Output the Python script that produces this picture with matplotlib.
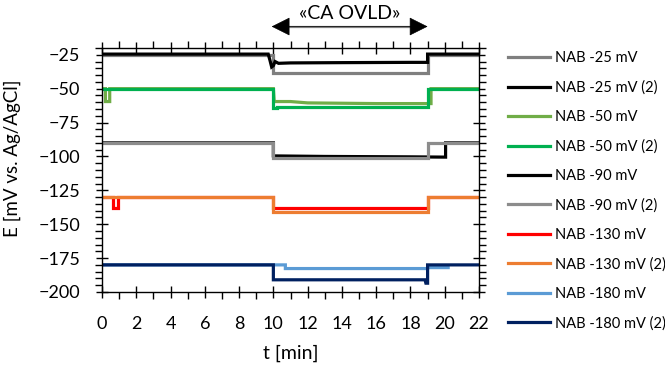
import matplotlib
matplotlib.use("Agg")
import matplotlib.pyplot as plt
from matplotlib.ticker import MultipleLocator

plt.rcParams['font.family'] = ['Lato', 'DejaVu Sans']

# series: time [min] and potential [mV vs. Ag/AgCl]
labels = ["NAB -25 mV", "NAB -25 mV (2)", "NAB -50 mV", "NAB -50 mV (2)",
          "NAB -90 mV", "NAB -90 mV (2)", "NAB -130 mV", "NAB -130 mV (2)",
          "NAB -180 mV", "NAB -180 mV (2)"]
colors = ["#7F7F7F", "#000000", "#70AD47", "#00B050", "#000000",
          "#8C8C8C", "#FF0000", "#ED7D31", "#5B9BD5", "#002060"]

t_25 = [0, 10, 10, 19, 19, 22]
e_25 = [-25, -25, -38.5, -38.5, -25, -25]
t_25b = [0, 9.7, 9.8, 9.9, 10.0, 10.1, 10.3, 11, 14, 18, 19, 19, 22]
e_25b = [-24.5, -24.5, -29, -34, -33, -30, -31.3, -31.0, -30.8, -30.6, -30.6, -24.5, -24.5]
t_50 = [0, 0.2, 0.2, 0.45, 0.45, 10, 10.05, 11, 12, 16, 19.2, 19.2, 22]
e_50 = [-50, -50, -59.5, -59.5, -50, -50, -59.5, -59.5, -60.5, -61, -61, -50, -50]
t_50b = [0, 10, 10, 10.2, 10.2, 19, 19, 22]
e_50b = [-50, -50, -64.5, -64.5, -63.5, -63.5, -50, -50]
t_90 = [0, 10, 10, 13, 18, 20.05, 20.05, 22]
e_90 = [-90, -90, -99.6, -100, -100.3, -100.5, -90, -90]
t_90b = [0, 10, 10, 19, 19, 22]
e_90b = [-90, -90, -101.3, -101.3, -90, -90]
t_130 = [0, 0.65, 0.65, 0.92, 0.92, 10, 10, 19, 19, 22]
e_130 = [-130, -130, -137.7, -137.7, -130, -130, -138.3, -138.3, -130, -130]
t_130b = [0, 10, 10, 19, 19, 22]
e_130b = [-130, -130, -141.2, -141.2, -130, -130]
t_180 = [0, 10.7, 10.7, 19, 19.05, 20.2]
e_180 = [-180, -180, -182.7, -182.7, -182, -182]
t_180b = [0, 10, 10, 18.85, 18.9, 19, 19, 22]
e_180b = [-180, -180, -191, -191, -193.5, -193.5, -180, -180]

times = [t_25, t_25b, t_50, t_50b, t_90, t_90b, t_130, t_130b, t_180, t_180b]
values = [e_25, e_25b, e_50, e_50b, e_90, e_90b, e_130, e_130b, e_180, e_180b]

fig = plt.figure(figsize=(6.65, 3.69), dpi=100)
ax = fig.add_axes([102/665, 1 - 292/369, 377/665, 244/369])

for t, e, lab, c in zip(times, values, labels, colors):
    ax.plot(t, e, color=c, lw=2.3, label=lab, solid_joinstyle="miter")

ax.set_xlim(0, 22)
ax.set_ylim(-200, -20)
ax.xaxis.set_major_locator(MultipleLocator(2))
ax.xaxis.set_minor_locator(MultipleLocator(1))
ax.yaxis.set_major_locator(MultipleLocator(25))
ax.yaxis.set_minor_locator(MultipleLocator(5))
ax.tick_params(which="major", direction="inout", length=9, width=1,
               top=True, right=True, labelsize=13)
ax.tick_params(axis="x", which="major", pad=13)
ax.tick_params(axis="y", which="major", pad=11)
ax.tick_params(which="minor", direction="out", length=5, width=1,
               top=True, right=True)
for s in ax.spines.values():
    s.set_linewidth(1)

ax.set_xlabel("t [min]", fontsize=14)
ax.set_ylabel("E [mV vs. Ag/AgCl]", fontsize=13.5)
ax.xaxis.set_label_coords(0.5, -0.215)
ax.yaxis.set_label_coords(-0.215, 0.55)

# CA OVLD window: black heads, gray shaft
xt = ax.get_xaxis_transform()
ax.annotate("", xy=(9.9, 1.088), xytext=(19.0, 1.088), xycoords=xt,
            arrowprops=dict(arrowstyle="<|-|>", color="black", lw=0.5,
                            mutation_scale=30, shrinkA=0, shrinkB=0))
ax.plot([10.5, 18.4], [1.088, 1.088], transform=xt, color="#808080",
        lw=1.6, clip_on=False)
ax.text(14.45, 1.14, "«CA OVLD»", transform=xt,
        ha="center", va="center", fontsize=14)

fig.legend(loc="upper left", bbox_to_anchor=(508/665, 1 - 51/369),
           frameon=False, fontsize=10.5, handlelength=2.9, handletextpad=0.35,
           labelspacing=1.05, borderpad=0, borderaxespad=0)

fig.savefig("out.png", dpi=100)
